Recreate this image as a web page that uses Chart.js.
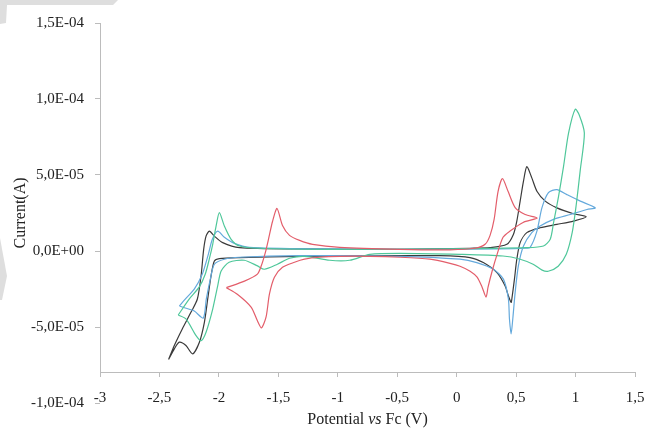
<!DOCTYPE html>
<html>
<head>
<meta charset="utf-8">
<script src="https://cdn.jsdelivr.net/npm/chart.js@4/dist/chart.umd.min.js"></script>
<style>
  body { margin: 0; background: #fff; overflow: hidden; }
  canvas { display: block; }
</style>
</head>
<body>
<canvas id="cv" width="647" height="428"></canvas>
<script>
// currents are read in units of 1e-5 A
const I_UNIT = 1e-5;

// Potential vs Fc (V) and Current, one array pair per curve
const redV = [-1.937,-1.785,-1.676,-1.642,-1.609,-1.583,-1.549,-1.511,-1.465,-1.406,-1.321,-1.212,-0.984,-0.478,-0.056,0.154,0.239,0.281,0.315,0.348,0.385,0.433,0.492,0.576,0.677,
  0.559,0.449,0.390,0.340,0.298,0.264,0.247,0.214,0.172,0.113,0.028,-0.056,-0.225,-0.478,-0.731,-0.984,-1.153,-1.280,-1.364,-1.465,-1.533,-1.575,-1.603,-1.642,-1.676,-1.729,-1.845,-1.937];
const redI = [-2.41,-1.98,-1.52,-0.94,-0.09,0.77,1.94,2.80,1.68,1.03,0.70,0.44,0.24,0.11,0.08,0.18,0.44,1.03,2.08,3.91,4.76,3.91,2.86,2.40,2.17,
  1.88,1.31,0.90,-0.22,-1.33,-2.38,-3.03,-2.38,-1.72,-1.33,-1.00,-0.81,-0.54,-0.41,-0.35,-0.35,-0.41,-0.54,-0.74,-1.07,-1.72,-2.84,-4.34,-5.06,-4.59,-3.69,-2.84,-2.41];

const greenV = [-2.342,-2.250,-2.166,-2.115,-2.081,-2.052,-2.024,-1.996,-1.954,-1.897,-1.827,-1.658,-1.068,-0.056,0.590,0.730,0.787,0.815,0.857,0.899,0.941,0.997,1.031,1.074,
  1.040,1.006,0.972,0.922,0.854,0.770,0.719,0.643,0.534,0.390,0.028,-0.478,-0.731,-0.900,-1.068,-1.280,-1.406,-1.508,-1.618,-1.675,-1.787,-1.914,-1.981,-2.010,-2.052,-2.108,-2.150,-2.192,-2.277,-2.342];
const greenI = [-4.21,-3.16,-2.38,-1.53,-0.54,0.44,1.62,2.52,1.64,0.77,0.33,0.18,0.11,0.14,0.22,0.33,0.77,1.86,3.60,5.57,7.76,9.33,8.95,7.76,
  5.35,3.06,1.22,-0.22,-1.00,-1.33,-1.26,-0.87,-0.54,-0.33,-0.22,-0.15,-0.22,-0.61,-0.61,-0.35,-0.48,-0.87,-1.20,-0.98,-0.61,-0.74,-1.31,-2.29,-3.82,-5.34,-5.90,-5.57,-4.47,-4.21];

const blueV = [-2.333,-2.283,-2.207,-2.140,-2.089,-2.055,-2.010,-1.954,-1.870,-1.744,-1.153,-0.309,0.365,0.576,0.618,0.675,0.717,0.772,0.843,0.927,1.040,1.166,
  1.096,0.955,0.815,0.702,0.632,0.562,0.519,0.492,0.472,0.458,0.444,0.435,0.393,0.309,0.169,0.028,-0.478,-1.321,-1.827,-1.954,-2.038,-2.072,-2.106,-2.131,-2.207,-2.283,-2.333];
const blueI = [-3.62,-3.16,-2.51,-1.53,-0.22,0.77,1.31,0.90,0.50,0.24,0.14,0.11,0.14,0.18,0.24,1.31,2.84,3.84,4.04,3.71,3.28,2.84,
  2.73,2.40,2.08,1.64,1.21,0.33,-0.98,-2.72,-4.47,-5.46,-4.47,-3.16,-1.85,-1.20,-0.76,-0.54,-0.35,-0.31,-0.41,-0.54,-0.87,-1.85,-3.16,-4.41,-3.95,-3.75,-3.62];

const blackV = [-2.423,-2.375,-2.308,-2.234,-2.181,-2.150,-2.128,-2.108,-2.080,-2.038,-1.968,-1.827,-1.321,-0.478,0.112,0.281,0.422,0.477,0.506,0.534,0.562,0.590,0.632,0.675,0.745,0.843,0.983,1.090,
  0.983,0.843,0.702,0.590,0.534,0.506,0.486,0.464,0.458,0.435,0.407,0.337,0.224,0.112,-0.141,-0.478,-1.321,-1.827,-1.996,-2.038,-2.066,-2.094,-2.122,-2.164,-2.221,-2.277,-2.333,-2.375,-2.423];
const blackI = [-7.14,-6.22,-5.13,-4.02,-3.16,-1.64,0.11,0.98,1.31,0.98,0.55,0.22,0.14,0.11,0.18,0.22,0.44,1.09,1.97,3.28,4.59,5.55,4.81,3.93,3.28,2.84,2.45,2.25,
  1.97,1.75,1.53,1.21,0.55,-0.54,-1.85,-3.16,-3.38,-2.95,-2.29,-1.41,-0.76,-0.43,-0.31,-0.31,-0.35,-0.43,-0.50,-0.66,-1.64,-3.16,-4.69,-6.00,-6.77,-6.22,-6.00,-6.44,-7.14];

// axis ticks
const xTicks = [-3, -2.5, -2, -1.5, -1, -0.5, 0, 0.5, 1, 1.5];
const yTicks = [-1e-4, -5e-5, 0, 5e-5, 1e-4, 1.5e-4];
const xCross = -8e-5;   // current at which the potential axis is drawn

function pts(v, i) {
  return v.map((x, k) => ({ x: x, y: i[k] * I_UNIT }));
}

function sciComma(v) {
  if (Math.abs(v) < 1e-12) return '0,0E+00';
  const parts = v.toExponential(1).split('e');
  const n = parseInt(parts[1], 10);
  return parts[0].replace('.', ',') + 'E' + (n < 0 ? '-' : '+') + String(Math.abs(n)).padStart(2, '0');
}

const serif = '"Liberation Serif", "Times New Roman", serif';
const axisGrey = '#bcbcbc';

// faint grey page edge seen in the top left corner of the picture
const pageEdge = {
  id: 'pageEdge',
  beforeDraw(chart) {
    const c = chart.ctx;
    c.save();
    c.fillStyle = '#dedede';
    c.beginPath();
    c.moveTo(0, 0); c.lineTo(118, 0); c.lineTo(113, 5); c.lineTo(7, 5); c.lineTo(6, 23); c.lineTo(0, 24);
    c.closePath(); c.fill();
    c.beginPath();
    c.moveTo(0, 238); c.lineTo(7, 276); c.lineTo(2, 300); c.lineTo(0, 300);
    c.closePath(); c.fill();
    c.restore();
  }
};

// vertical axis line stops where the potential axis crosses it
const yLine = {
  id: 'yLine',
  beforeDatasetsDraw(chart) {
    const c = chart.ctx;
    const area = chart.chartArea;
    const x = Math.round(area.left) + 0.5;
    c.save();
    c.strokeStyle = axisGrey;
    c.lineWidth = 1;
    c.beginPath();
    c.moveTo(x, area.top);
    c.lineTo(x, chart.scales.y.getPixelForValue(xCross));
    c.stroke();
    c.restore();
  }
};

// x axis title with italic "vs"
const xTitle = {
  id: 'xTitle',
  afterDraw(chart) {
    const c = chart.ctx;
    const area = chart.chartArea;
    const parts = [['Potential ', 'normal'], ['vs', 'italic'], [' Fc (V)', 'normal']];
    c.save();
    c.fillStyle = '#222';
    c.textBaseline = 'middle';
    let w = 0;
    parts.forEach(p => { c.font = p[1] + ' 16px ' + serif; w += c.measureText(p[0]).width; });
    let x = (area.left + area.right) / 2 - w / 2;
    parts.forEach(p => {
      c.font = p[1] + ' 16px ' + serif;
      c.fillText(p[0], x, 420);
      x += c.measureText(p[0]).width;
    });
    c.restore();
  }
};

const ctx = document.getElementById('cv');

const chart = new Chart(ctx, {
  type: 'scatter',
  data: {
    datasets: [
      { label: 'red', data: pts(redV, redI), borderColor: '#e35d6a' },
      { label: 'green', data: pts(greenV, greenI), borderColor: '#4fc79a' },
      { label: 'blue', data: pts(blueV, blueI), borderColor: '#64a9dc' },
      { label: 'black', data: pts(blackV, blackI), borderColor: '#3a3a3a' }
    ].map(d => Object.assign(d, { showLine: true, pointRadius: 0, borderWidth: 1.2, tension: 0.25, fill: false }))
  },
  options: {
    responsive: false,
    animation: false,
    layout: { padding: { left: 0, right: 12, top: 23, bottom: 25 } },
    plugins: {
      legend: { display: false },
      tooltip: { enabled: false }
    },
    scales: {
      x: {
        type: 'linear',
        position: { y: xCross },
        min: xTicks[0],
        max: xTicks[xTicks.length - 1],
        afterBuildTicks: s => { s.ticks = xTicks.map(v => ({ value: v })); },
        // the tick padding would otherwise also be reserved at the sides
        afterFit: s => { s.paddingLeft = 0; s.paddingRight = 0; },
        ticks: {
          padding: 12,
          color: '#222',
          font: { family: serif, size: 15 },
          callback: v => String(Math.round(v * 10) / 10).replace('.', ',')
        },
        grid: { drawOnChartArea: false, drawTicks: true, tickLength: 4, color: axisGrey },
        border: { display: true, color: axisGrey, width: 1 }
      },
      y: {
        type: 'linear',
        min: yTicks[0],
        max: yTicks[yTicks.length - 1],
        afterBuildTicks: s => { s.ticks = yTicks.map(v => ({ value: v })); },
        afterFit: s => { s.width = 100; },
        ticks: {
          padding: 11,
          color: '#222',
          font: { family: serif, size: 15 },
          callback: v => sciComma(v)
        },
        grid: { drawOnChartArea: false, drawTicks: true, tickLength: 5, color: axisGrey },
        border: { display: false },
        title: {
          display: true,
          text: 'Current(A)',
          color: '#222',
          font: { family: serif, size: 16 },
          padding: { top: 11, bottom: 0 }
        }
      }
    }
  },
  plugins: [pageEdge, yLine, xTitle]
});
</script>
</body>
</html>
